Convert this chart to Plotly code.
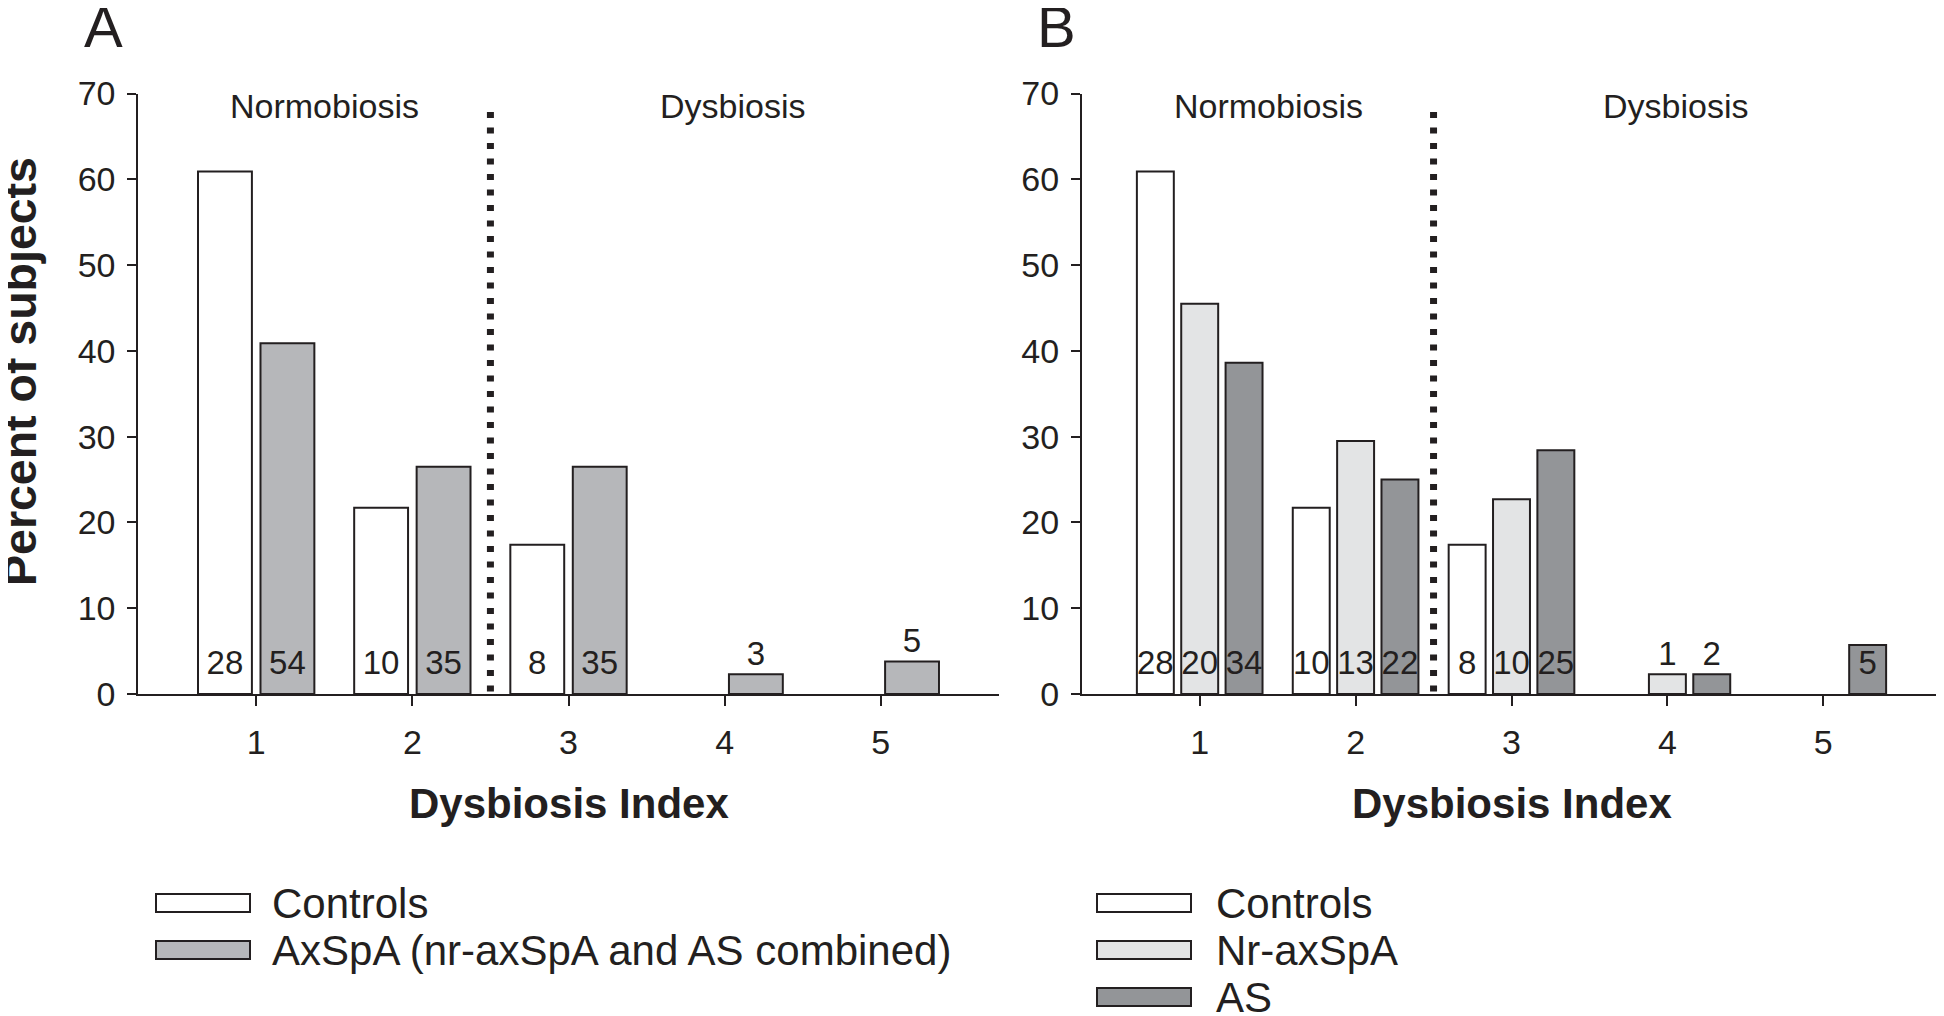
import plotly.graph_objects as go

# ---------------- data ----------------
dysbiosis_index = [1, 2, 3, 4, 5]
y_ticks = [0, 10, 20, 30, 40, 50, 60, 70]

# Panel A
a_controls_pct = [60.9, 21.7, 17.4, 0, 0]
a_axspa_pct = [40.9, 26.5, 26.5, 2.3, 3.8]
a_controls_n = ["28", "10", "8", "", ""]
a_axspa_n = ["54", "35", "35", "3", "5"]

# Panel B
b_controls_pct = [60.9, 21.7, 17.4, 0, 0]
b_nr_pct = [45.5, 29.5, 22.7, 2.3, 0]
b_as_pct = [38.6, 25.0, 28.4, 2.3, 5.7]
b_controls_n = ["28", "10", "8", "", ""]
b_nr_n = ["20", "13", "10", "1", ""]
b_as_n = ["34", "22", "25", "2", "5"]

region_labels = ["Normobiosis", "Dysbiosis"]
panel_labels = ["A", "B"]
legend_a = ["Controls", "AxSpA (nr-axSpA and AS combined)"]
legend_b = ["Controls", "Nr-axSpA", "AS"]
x_title = "Dysbiosis Index"
y_title = "Percent of subjects"

# ---------------- style ----------------
PAGE_MARGIN = 8               # default body margin of the html page
W, H = 1944 - PAGE_MARGIN, 1016 - PAGE_MARGIN
FONT = "Liberation Sans, Arial, Helvetica, sans-serif"
INK = "#231f20"
C_CTRL = "#ffffff"
C_AXSPA = "#b6b7ba"
C_NR = "#e3e4e5"
C_AS = "#939598"

def px(x):
    return (x - PAGE_MARGIN) / W

def py(y):
    return 1 - (y - PAGE_MARGIN) / H

X_RANGE = [0.245, 5.755]
Y_DOMAIN = [py(694), py(93.5)]
XA_DOMAIN = [px(138.3), px(998.7)]
XB_DOMAIN = [px(1082.0), px(1941.0)]

fig = go.Figure()

def add_bars(vals, counts, color, offset, width, xaxis, yaxis):
    shown = [v if v > 0 else None for v in vals]
    fig.add_trace(go.Bar(
        x=dysbiosis_index, y=shown, offset=offset, width=width,
        marker=dict(color=color, line=dict(color=INK, width=2)),
        xaxis=xaxis, yaxis=yaxis, showlegend=False, hoverinfo="skip"))
    xs, ys, ts = [], [], []
    for xi, v, t in zip(dysbiosis_index, vals, counts):
        if not t:
            continue
        xs.append(xi + offset + width / 2)
        ys.append(3.3 if v >= 5 else v + 2.1)
        ts.append(t)
    fig.add_trace(go.Scatter(
        x=xs, y=ys, text=ts, mode="text", textposition="middle center",
        textfont=dict(family=FONT, size=33, color=INK),
        xaxis=xaxis, yaxis=yaxis, showlegend=False, hoverinfo="skip"))

# Panel A bars
WA = 0.345
add_bars(a_controls_pct, a_controls_n, C_CTRL, -0.3725, WA, "x", "y")
add_bars(a_axspa_pct, a_axspa_n, C_AXSPA, 0.0275, WA, "x", "y")

# Panel B bars
WB = 0.237
add_bars(b_controls_pct, b_controls_n, C_CTRL, -0.403, WB, "x2", "y2")
add_bars(b_nr_pct, b_nr_n, C_NR, -0.1185, WB, "x2", "y2")
add_bars(b_as_pct, b_as_n, C_AS, 0.166, WB, "x2", "y2")

axis_common = dict(
    showline=True, linewidth=2, linecolor=INK, showgrid=False, zeroline=False,
    ticks="outside", tickwidth=2, tickcolor=INK, automargin=False,
    tickfont=dict(family=FONT, size=34, color=INK),
)

fig.update_layout(
    template="none",
    width=W, height=H, margin=dict(l=0, r=0, t=0, b=0, pad=0, autoexpand=False),
    paper_bgcolor="white", plot_bgcolor="white",
    barmode="overlay", showlegend=False,
    xaxis=dict(domain=XA_DOMAIN, range=X_RANGE, tickvals=dysbiosis_index,
               ticklen=10, ticklabelstandoff=7, anchor="y", **axis_common),
    yaxis=dict(domain=Y_DOMAIN, range=[0, 70], tickvals=y_ticks,
               ticklen=9, ticklabelstandoff=5, anchor="x", **axis_common),
    xaxis2=dict(domain=XB_DOMAIN, range=X_RANGE, tickvals=dysbiosis_index,
                ticklen=10, ticklabelstandoff=7, anchor="y2", **axis_common),
    yaxis2=dict(domain=Y_DOMAIN, range=[0, 70], tickvals=y_ticks,
                ticklen=9, ticklabelstandoff=5, anchor="x2", **axis_common),
)

shapes = []
annotations = []

def note(x, y, text, size, xref="paper", yref="paper", **kw):
    d = dict(xref=xref, yref=yref, x=x, y=y, text=text, showarrow=False,
             xanchor="center", yanchor="middle",
             font=dict(family=FONT, size=size, color=INK))
    d.update(kw)
    annotations.append(d)

# dotted separators between normobiosis and dysbiosis
for xr, yr in [("x", "y"), ("x2", "y2")]:
    shapes.append(dict(type="line", xref=xr, yref=yr, x0=2.5, x1=2.5, y0=0.3, y1=68.6,
                       line=dict(color=INK, width=7, dash="6px,9.5px"), layer="above"))
    note(1.44, 68.5, region_labels[0], 34, xref=xr, yref=yr)
    note(4.05, 68.5, region_labels[1], 34, xref=xr, yref=yr)

# panel letters
note(px(103), py(26), panel_labels[0], 58)
note(px(1056), py(26), panel_labels[1], 58)

# axis titles
for cx in [(XA_DOMAIN[0] + XA_DOMAIN[1]) / 2, (XB_DOMAIN[0] + XB_DOMAIN[1]) / 2]:
    note(cx, py(803), "<b>%s</b>" % x_title, 42)
note(px(20), py(372), "<b>%s</b>" % y_title, 46.5, textangle=-90)

# legends (drawn manually to match the wide swatches)
def add_legend(labels, colors, x_sw, x_txt, y_rows):
    for lab, col, yc in zip(labels, colors, y_rows):
        shapes.append(dict(type="rect", xref="paper", yref="paper",
                           x0=px(x_sw), x1=px(x_sw + 94), y0=py(yc + 9), y1=py(yc - 9),
                           fillcolor=col, line=dict(color=INK, width=2)))
        note(px(x_txt), py(yc), lab, 42, xanchor="left")

add_legend(legend_a, [C_CTRL, C_AXSPA], 156, 270, [903, 950])
add_legend(legend_b, [C_CTRL, C_NR, C_AS], 1097, 1214, [903, 950, 997])

fig.update_layout(shapes=shapes, annotations=annotations)
fig.write_html("out.html")
